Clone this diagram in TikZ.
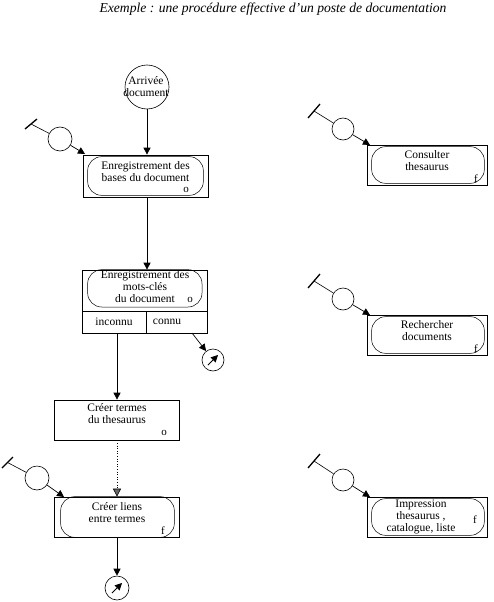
\documentclass[tikz,border=0pt]{standalone}
\usepackage{fontspec}
\setmainfont{Liberation Serif}
\usetikzlibrary{arrows.meta}
\begin{document}
\begin{tikzpicture}[x=1pt,y=-1pt,
  every node/.style={font=\fontsize{11.5}{12}\selectfont, align=center, inner sep=0pt},
  box/.style={draw, rectangle, minimum width=125pt, minimum height=40pt, line width=0.7pt},
  rbox/.style={draw, rectangle, minimum width=120pt, minimum height=40pt, line width=0.7pt},
  inner/.style={draw, rounded corners=14pt, line width=0.5pt},
  circ/.style={draw, circle, line width=0.6pt},
  arr/.style={-{Triangle[length=7pt,width=7pt]}, line width=0.7pt},
  tarr/.style={-{Triangle[length=7pt,width=7pt]}, line width=0.8pt},
  thin/.style={line width=0.6pt},
  tickl/.style={line width=1.3pt},
  lbl/.style={font=\fontsize{11}{11}\selectfont}
]
\useasboundingbox (0,0) rectangle (494,602);

\node[font=\fontsize{13.6}{14}\selectfont\itshape] (title) at (273,9) {Exemple : une proc\'edure effective d'un poste de documentation};

% Arrivée
\node[circ, minimum size=44pt] (arr) at (147,87) {};
\node (arrt) at (146,87) {Arriv\'ee\\document};

% Box 1
\node[box, minimum height=42pt] (b1) at (145.5,176) {};
\draw[inner] ([xshift=5pt,yshift=-2pt]b1.north west) rectangle ([xshift=-5pt,yshift=2pt]b1.south east);
\node (b1t) at (145.5,172) {Enregistrement des\\bases du document};
\node[lbl] (b1o) at (186,190) {o};

% Box 2
\node[box, minimum height=63pt] (b2) at (144.5,301.5) {};
\coordinate (b2div) at (82,311);
\draw[thin] (b2div) -- (207,311);
\draw[thin] (146,311) -- (146,333);
\draw[inner] ([xshift=6pt]b2.north west) rectangle (202,307);
\node (b2t) at (145,287) {Enregistrement des\\mots-cl\'es\\du document};
\node[lbl] (b2o) at (190,300) {o};
\node (inc) at (114,322) {inconnu};
\node (con) at (167,322) {connu};
\coordinate (b2c) at (192,333);
\coordinate (b2i) at (117,333);

% Box 3
\node[box] (b3) at (116.5,420) {};
\node (b3t) at (117,414) {Cr\'eer termes\\du thesaurus};
\node[lbl] (b3o) at (164,433) {o};

% Box 4
\node[box] (b4) at (116.5,517) {};
\draw[inner] ([xshift=7pt]b4.north west) rectangle ([xshift=-5pt]b4.south east);
\node (b4t) at (117,513) {Cr\'eer liens\\entre termes};
\node[lbl] (b4f) at (163,531) {f};

% Terminals
\node[circ, minimum size=22pt] (t1) at (213,360) {};
\draw[tarr] ([shift={(-5pt,-5pt)}]t1.center) -- ([shift={(5pt,5pt)}]t1.center);
\node[circ, minimum size=24pt] (t2) at (117,588) {};
\draw[tarr] ([shift={(-5pt,-5pt)}]t2.center) -- ([shift={(5pt,5pt)}]t2.center);

% Right boxes
\node[rbox] (c1) at (427,165) {};
\draw[inner] ([xshift=5pt,yshift=-2pt]c1.north west) rectangle ([xshift=-3pt,yshift=2pt]c1.south east);
\node (c1t) at (427,161) {Consulter\\thesaurus};
\node[lbl] (c1f) at (476,179) {f};

\node[rbox] (c2) at (427,335) {};
\draw[inner] ([xshift=5pt,yshift=-2pt]c2.north west) rectangle ([xshift=-3pt,yshift=2pt]c2.south east);
\node (c2t) at (427,331) {Rechercher\\documents};
\node[lbl] (c2f) at (476,349) {f};

\node[rbox] (c3) at (427,517) {};
\draw[inner] ([xshift=5pt,yshift=-2pt]c3.north west) rectangle ([xshift=-3pt,yshift=2pt]c3.south east);
\node (c3t) at (421,517) {Impression\\thesaurus ,\\catalogue, liste};
\node[lbl] (c3f) at (475,520) {f};

% Input circles with ticks
\node[circ, minimum size=24pt] (i1) at (60,139) {};
\coordinate (k1a) at (25,129); \coordinate (k1b) at (37,119); \coordinate (k1m) at (31,124);
\draw[tickl] (k1a) -- (k1b);
\draw[thin] (k1m) -- (i1);
\coordinate (e1) at (85,154);
\draw[arr] (i1) -- (e1);

\node[circ, minimum size=22pt] (i2) at (343,129) {};
\coordinate (k2a) at (308,118); \coordinate (k2b) at (320,104); \coordinate (k2m) at (314,111);
\draw[tickl] (k2a) -- (k2b);
\draw[thin] (k2m) -- (i2);
\coordinate (e2) at (370,145);
\draw[arr] (i2) -- (e2);

\node[circ, minimum size=22pt] (i3) at (343,299) {};
\coordinate (k3a) at (308,288); \coordinate (k3b) at (320,274); \coordinate (k3m) at (314,281);
\draw[tickl] (k3a) -- (k3b);
\draw[thin] (k3m) -- (i3);
\coordinate (e3) at (370,315);
\draw[arr] (i3) -- (e3);

\node[circ, minimum size=22pt] (i4) at (343,480) {};
\coordinate (k4a) at (308,468); \coordinate (k4b) at (320,454); \coordinate (k4m) at (314,461);
\draw[tickl] (k4a) -- (k4b);
\draw[thin] (k4m) -- (i4);
\coordinate (e4) at (370,497);
\draw[arr] (i4) -- (e4);

\node[circ, minimum size=24pt] (i5) at (37,478) {};
\coordinate (k5a) at (2,468); \coordinate (k5b) at (13,457); \coordinate (k5m) at (7.5,462.5);
\draw[tickl] (k5a) -- (k5b);
\draw[thin] (k5m) -- (i5);
\coordinate (e5) at (64,497);
\draw[arr] (i5) -- (e5);

% Main connectors
\draw[arr] (arr) -- (arr |- b1.north);
\draw[arr] (b1.south -| arr) -- (arr |- b2.north);
\draw[arr] (b2i) -- (b2i |- b3.north);
\draw[arr] (b2c) -- (t1);
\draw[thin, dotted, -{Triangle[length=8pt,width=8pt,fill=gray!80!black]}] (b3.south -| b2i) -- (b2i |- b4.north);
\draw[arr] (b4.south -| b2i) -- (t2);
\end{tikzpicture}
\end{document}
